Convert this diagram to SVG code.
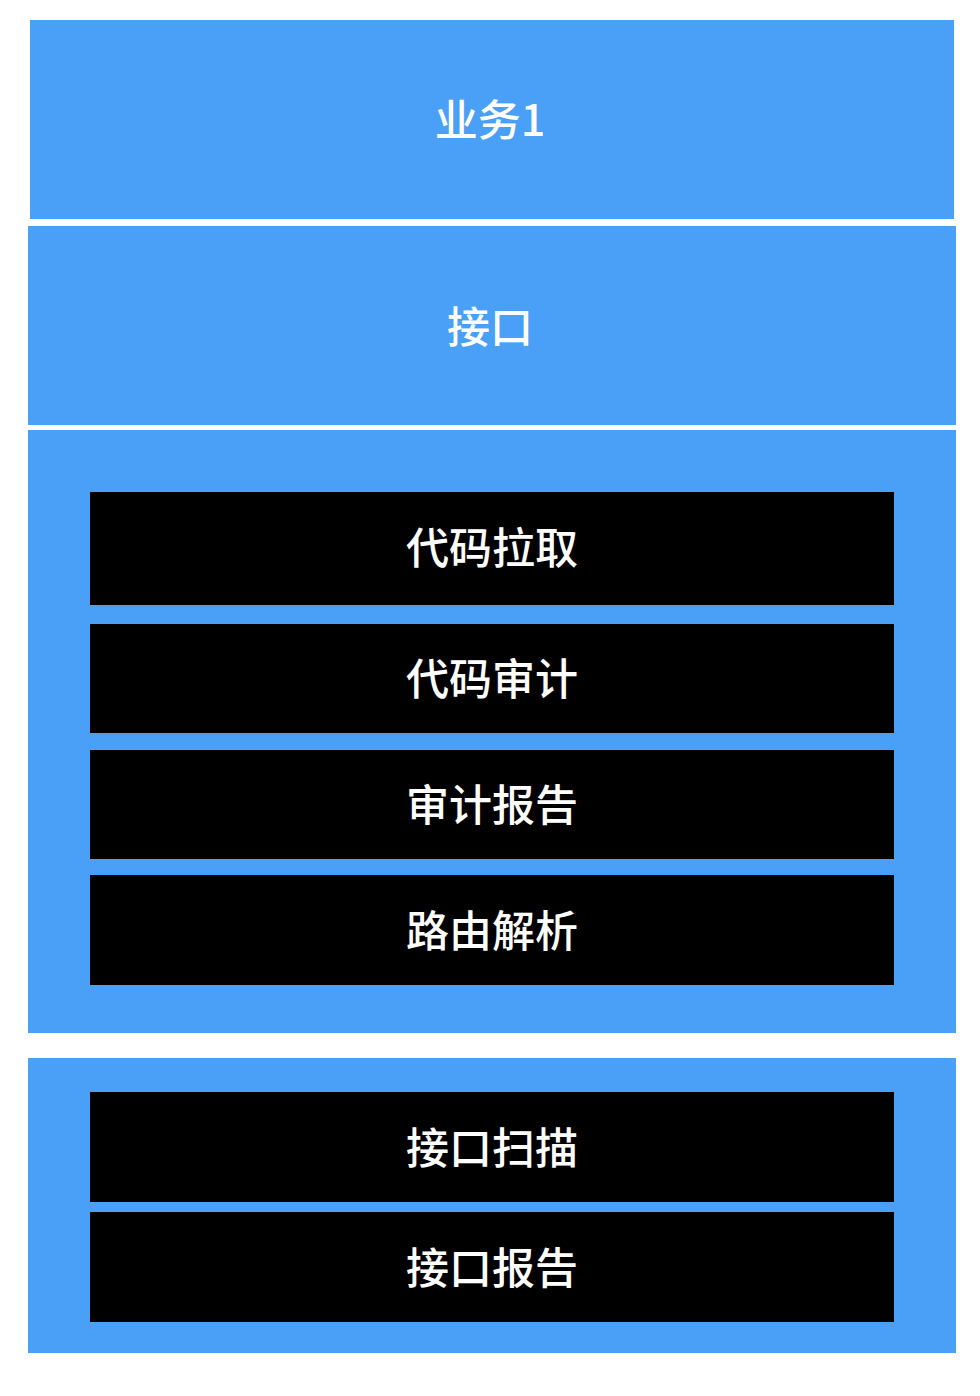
<svg xmlns="http://www.w3.org/2000/svg" width="980" height="1396" viewBox="0 0 980 1396">
<style>
.blue{fill:#4aa0f6}
.blk{fill:#000}
text{font-family:"Noto Sans CJK SC","Liberation Sans",sans-serif;font-size:43px;font-weight:500;fill:#fff;text-anchor:middle}
</style>
<rect width="980" height="1396" fill="#fff"/>
<g id="biz1"><rect class="blue" x="30" y="20" width="924" height="199"/><text x="490" y="136">业务1</text></g>
<g id="api"><rect class="blue" x="28" y="226" width="928" height="199"/><text x="490" y="343">接口</text></g>
<g id="group1"><rect class="blue" x="28" y="430" width="928" height="603"/></g>
<g id="n1"><rect class="blk" x="90" y="492" width="804" height="113"/><text x="492" y="564">代码拉取</text></g>
<g id="n2"><rect class="blk" x="90" y="624" width="804" height="109"/><text x="492" y="695">代码审计</text></g>
<g id="n3"><rect class="blk" x="90" y="750" width="804" height="109"/><text x="492" y="821">审计报告</text></g>
<g id="n4"><rect class="blk" x="90" y="875" width="804" height="110"/><text x="492" y="947">路由解析</text></g>
<g id="group2"><rect class="blue" x="28" y="1058" width="928" height="295"/></g>
<g id="n5"><rect class="blk" x="90" y="1092" width="804" height="110"/><text x="492" y="1164">接口扫描</text></g>
<g id="n6"><rect class="blk" x="90" y="1212" width="804" height="110"/><text x="492" y="1284">接口报告</text></g>
<g id="connectors"/>
</svg>
